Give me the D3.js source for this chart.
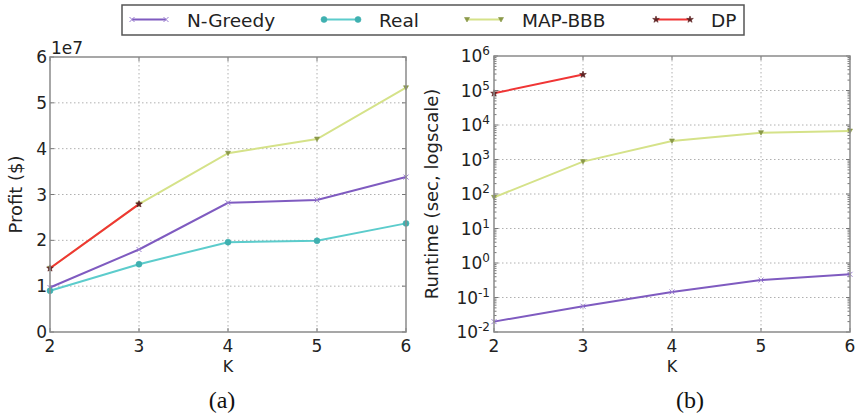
<!DOCTYPE html>
<html>
<head>
<meta charset="utf-8">
<script src="https://cdn.jsdelivr.net/npm/d3@7"></script>
<style>
  body { margin: 0; background: #fff; }
  svg { display: block; font-family: "DejaVu Sans", sans-serif; }
</style>
</head>
<body>
<svg id="vis" width="856" height="417"></svg>
<script>
// data
const ks = [2, 3, 4, 5, 6];
const seriesNames = ["N-Greedy", "Real", "MAP-BBB", "DP"];

// (a) profit
const profitGreedy = [0.97e7, 1.80e7, 2.82e7, 2.88e7, 3.38e7];
const profitReal   = [0.90e7, 1.48e7, 1.96e7, 1.99e7, 2.37e7];
const profitMap    = [1.39e7, 2.79e7, 3.90e7, 4.21e7, 5.33e7];
const profitDP     = [1.39e7, 2.79e7];

// (b) runtime in seconds
const timeGreedy = [0.02, 0.056, 0.145, 0.32, 0.47];
const timeMap    = [80, 870, 3450, 6000, 6700];
const timeDP     = [8.3e4, 2.9e5];

const profitTicks = [0, 1, 2, 3, 4, 5, 6];
const logTicks = [-2, -1, 0, 1, 2, 3, 4, 5, 6];

const colors = { "N-Greedy": "#7f5bc0", "Real": "#5ccccc", "MAP-BBB": "#d5e289", "DP": "#f03535" };
const markColors = { "N-Greedy": "#9b7fd0", "Real": "#3fb0b0", "MAP-BBB": "#8a9848", "DP": "#5a2020" };

const svg = d3.select("#vis");

function markerPath(name, size) {
  const s = size;
  if (name === "N-Greedy") return `M${-s},${-s}L${s},${s}M${-s},${s}L${s},${-s}`;
  if (name === "MAP-BBB") return `M${-s},${-s*0.8}L${s},${-s*0.8}L0,${s}Z`;
  if (name === "DP") return d3.symbol(d3.symbolStar, 14)();
  return d3.symbol(d3.symbolCircle, 28)();
}

function drawSeries(g, x, y, name, vals) {
  const pts = vals.map((v, i) => [ks[i], v]);
  g.append("path")
    .attr("d", d3.line().x(d => x(d[0])).y(d => y(d[1]))(pts))
    .attr("fill", "none")
    .attr("stroke", colors[name])
    .attr("stroke-width", 2);
  g.selectAll(null).data(pts).join("path")
    .attr("transform", d => `translate(${x(d[0])},${y(d[1])})`)
    .attr("d", markerPath(name, 2.5))
    .attr("fill", name === "N-Greedy" ? "none" : markColors[name])
    .attr("stroke", markColors[name])
    .attr("stroke-width", name === "N-Greedy" ? 1 : 0.6);
}

function frame(g, x, y, yTickVals, w, h) {
  // grid
  g.selectAll(".gx").data(ks.slice(1, -1)).join("line")
    .attr("x1", d => x(d)).attr("x2", d => x(d))
    .attr("y1", 0).attr("y2", h)
    .attr("stroke", "#b0b0b0").attr("stroke-dasharray", "1.5,2.5");
  g.selectAll(".gy").data(yTickVals.slice(1, -1)).join("line")
    .attr("x1", 0).attr("x2", w)
    .attr("y1", d => y(d)).attr("y2", d => y(d))
    .attr("stroke", "#b0b0b0").attr("stroke-dasharray", "1.5,2.5");
  // x tick labels
  g.selectAll(".xl").data(ks).join("text")
    .attr("x", d => x(d)).attr("y", h + 20)
    .attr("text-anchor", "middle")
    .attr("font-size", 17).attr("fill", "#222")
    .text(d => d);
  g.append("text")
    .attr("x", w / 2).attr("y", h + 40)
    .attr("text-anchor", "middle")
    .attr("font-size", 16).attr("fill", "#222")
    .text("K");
  // small inward ticks
  ks.forEach(k => {
    g.append("line").attr("x1", x(k)).attr("x2", x(k)).attr("y1", h).attr("y2", h - 4).attr("stroke", "#777");
    g.append("line").attr("x1", x(k)).attr("x2", x(k)).attr("y1", 0).attr("y2", 4).attr("stroke", "#777");
  });
  yTickVals.forEach(v => {
    g.append("line").attr("x1", 0).attr("x2", 4).attr("y1", y(v)).attr("y2", y(v)).attr("stroke", "#777");
    g.append("line").attr("x1", w).attr("x2", w - 4).attr("y1", y(v)).attr("y2", y(v)).attr("stroke", "#777");
  });
}

function box(g, w, h) {
  g.append("rect")
    .attr("width", w).attr("height", h)
    .attr("fill", "none").attr("stroke", "#8a8a8a").attr("stroke-width", 1.5);
}

// ---------- (a) ----------
const wA = 356, hA = 275;
const gA = svg.append("g").attr("transform", "translate(50,57)");
const xA = d3.scaleLinear().domain([2, 6]).range([0, wA]);
const yA = d3.scaleLinear().domain([0, 6e7]).range([hA, 0]);
const pTickVals = profitTicks.map(d => d * 1e7);
frame(gA, xA, yA, pTickVals, wA, hA);

gA.selectAll(".yl").data(profitTicks).join("text")
  .attr("x", -3).attr("y", d => yA(d * 1e7) + 6)
  .attr("text-anchor", "end")
  .attr("font-size", 17).attr("fill", "#222")
  .text(d => d);
gA.append("text").attr("x", 1).attr("y", -3)
  .attr("font-size", 17).attr("fill", "#222").text("1e7");
gA.append("text")
  .attr("transform", `translate(-28,${hA / 2}) rotate(-90)`)
  .attr("text-anchor", "middle")
  .attr("font-size", 18).attr("fill", "#222")
  .text("Profit ($)");

drawSeries(gA, xA, yA, "N-Greedy", profitGreedy);
drawSeries(gA, xA, yA, "Real", profitReal);
drawSeries(gA, xA, yA, "MAP-BBB", profitMap);
drawSeries(gA, xA, yA, "DP", profitDP);
box(gA, wA, hA);

// ---------- (b) ----------
const wB = 356, hB = 276;
const gB = svg.append("g").attr("transform", "translate(494,56)");
const xB = d3.scaleLinear().domain([2, 6]).range([0, wB]);
const yB = d3.scaleLog().domain([1e-2, 1e6]).range([hB, 0]);
const lTickVals = logTicks.map(e => Math.pow(10, e));
frame(gB, xB, yB, lTickVals, wB, hB);

// minor log ticks
logTicks.slice(0, -1).forEach(e => {
  for (let m = 2; m <= 9; m++) {
    const v = m * Math.pow(10, e);
    gB.append("line").attr("x1", 0).attr("x2", 2.5).attr("y1", yB(v)).attr("y2", yB(v)).attr("stroke", "#777");
    gB.append("line").attr("x1", wB).attr("x2", wB - 2.5).attr("y1", yB(v)).attr("y2", yB(v)).attr("stroke", "#777");
  }
});

const yl = gB.selectAll(".yl").data(logTicks).join("text")
  .attr("x", -4).attr("y", d => yB(Math.pow(10, d)) + 6)
  .attr("text-anchor", "end")
  .attr("font-size", 17).attr("fill", "#222");
yl.append("tspan").text("10");
yl.append("tspan").attr("dy", -7).attr("font-size", 12).text(d => d < 0 ? "-" + (-d) : d);

gB.append("text")
  .attr("transform", `translate(-56,${hB / 2}) rotate(-90)`)
  .attr("text-anchor", "middle")
  .attr("font-size", 18).attr("fill", "#222")
  .text("Runtime (sec, logscale)");

drawSeries(gB, xB, yB, "N-Greedy", timeGreedy);
drawSeries(gB, xB, yB, "MAP-BBB", timeMap);
drawSeries(gB, xB, yB, "DP", timeDP);
box(gB, wB, hB);

// ---------- captions ----------
svg.append("text").attr("x", 222).attr("y", 408)
  .attr("text-anchor", "middle")
  .attr("font-family", "Liberation Serif, serif").attr("font-size", 24).attr("fill", "#111")
  .text("(a)");
svg.append("text").attr("x", 690).attr("y", 408)
  .attr("text-anchor", "middle")
  .attr("font-family", "Liberation Serif, serif").attr("font-size", 24).attr("fill", "#111")
  .text("(b)");

// ---------- legend ----------
const lg = svg.append("g");
lg.append("rect").attr("x", 122).attr("y", 5).attr("width", 622).attr("height", 30)
  .attr("fill", "#fff").attr("stroke", "#555").attr("stroke-width", 1.5);
const legX = [132, 324, 467, 656];
seriesNames.forEach((name, i) => {
  const x0 = legX[i], yy = 19.5;
  const lx = d3.scaleLinear().domain([0, 1]).range([x0, x0 + 34]);
  lg.append("line").attr("x1", lx(0)).attr("x2", lx(1)).attr("y1", yy).attr("y2", yy)
    .attr("stroke", colors[name]).attr("stroke-width", 2);
  [0, 1].forEach(t => {
    lg.append("path")
      .attr("transform", `translate(${lx(t)},${yy})`)
      .attr("d", markerPath(name, 2.5))
      .attr("fill", name === "N-Greedy" ? "none" : markColors[name])
      .attr("stroke", markColors[name])
      .attr("stroke-width", name === "N-Greedy" ? 1 : 0.6);
  });
  lg.append("text").attr("x", x0 + 55).attr("y", yy + 7)
    .attr("font-size", 18.5).attr("fill", "#222")
    .text(name);
});
</script>
</body>
</html>
